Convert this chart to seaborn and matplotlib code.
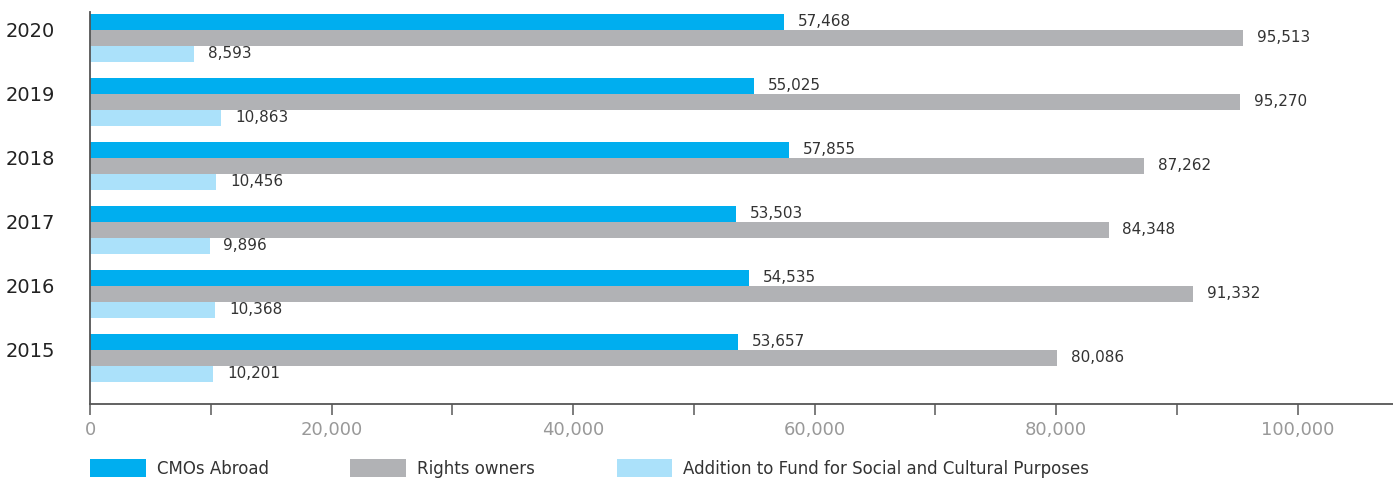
import matplotlib
matplotlib.use("Agg")
import matplotlib.pyplot as plt
import matplotlib.transforms as mtransforms
from matplotlib.ticker import MultipleLocator, FuncFormatter
import pandas as pd
import seaborn as sns

# Distribution figures per year (in thousands)
years = ["2020", "2019", "2018", "2017", "2016", "2015"]
series = ["CMOs Abroad", "Rights owners", "Addition to Fund for Social and Cultural Purposes"]
cmos_abroad = [57468, 55025, 57855, 53503, 54535, 53657]
rights_owners = [95513, 95270, 87262, 84348, 91332, 80086]
fund_addition = [8593, 10863, 10456, 9896, 10368, 10201]
colors = ["#00AEEF", "#B1B2B5", "#ABE1FA"]

df = pd.DataFrame({
    "year": years * 3,
    "series": [series[0]] * 6 + [series[1]] * 6 + [series[2]] * 6,
    "value": cmos_abroad + rights_owners + fund_addition,
})

sns.set_theme(style="white")
plt.rcParams["font.family"] = ["DejaVu Sans"]

fig = plt.figure(figsize=(13.93, 4.82), dpi=100)
ax = fig.add_axes([90 / 1393, 1 - 404 / 482, 1 - 90 / 1393, (404 - 12) / 482])

sns.barplot(data=df, x="value", y="year", hue="series", order=years,
            hue_order=series, palette=colors, orient="h", width=0.75,
            gap=0, saturation=1, errorbar=None, linewidth=0, ax=ax, legend=True)

for container in ax.containers:
    ax.bar_label(container, labels=[f"{v:,.0f}" for v in container.datavalues],
                 padding=10, fontsize=11, color="#333333")

ax.set_xlim(0, 107900)
ax.set_ylim(5.72, -0.406)

ax.xaxis.set_major_locator(MultipleLocator(20000))
ax.xaxis.set_minor_locator(MultipleLocator(10000))
ax.xaxis.set_major_formatter(FuncFormatter(lambda v, p: f"{v:,.0f}"))
ax.tick_params(axis="x", which="both", direction="out", length=8, width=1.2,
               color="#666666", bottom=True)
ax.tick_params(axis="x", which="major", pad=4, labelsize=13, labelcolor="#999999")
ax.tick_params(axis="y", length=0, pad=25, labelsize=14, labelcolor="#222222")
ax.xaxis.get_major_ticks()[0].tick1line.set_visible(False)

# lift the year labels a little above the group centre
lift = mtransforms.ScaledTranslation(0, 8 / 100, fig.dpi_scale_trans)
for lab in ax.get_yticklabels():
    lab.set_transform(lab.get_transform() + lift)

ax.set_xlabel("")
ax.set_ylabel("")
sns.despine(ax=ax, top=True, right=True)
for side in ("left", "bottom"):
    ax.spines[side].set_color("#555555")
    ax.spines[side].set_linewidth(1.3)

handles, labels = ax.get_legend_handles_labels()
ax.get_legend().remove()
fig.legend(handles, labels, loc="upper left",
           bbox_to_anchor=(90 / 1393, 1 - 459 / 482), ncol=3, frameon=False,
           fontsize=12, labelcolor="#333333", handlelength=3.35, handleheight=1.3,
           handletextpad=0.65, columnspacing=4.9, borderpad=0, borderaxespad=0)

fig.savefig("out.png", dpi=100)
